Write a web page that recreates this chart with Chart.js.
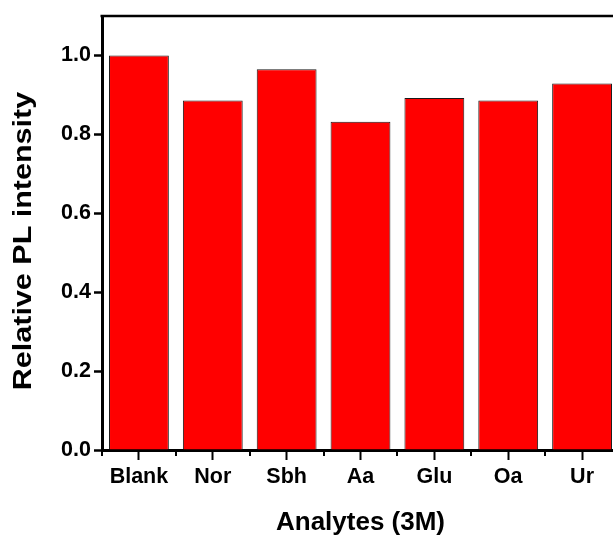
<!DOCTYPE html>
<html>
<head>
<meta charset="utf-8">
<script src="https://cdn.jsdelivr.net/npm/chart.js@4"></script>
<style>
  html, body { margin: 0; padding: 0; background: #fff; }
  #wrap { width: 613px; height: 538px; overflow: hidden; position: relative; }
  canvas { display: block; }
</style>
</head>
<body>
<div id="wrap"><canvas id="chart" width="640" height="538"></canvas></div>
<script>
  // Relative PL intensity per analyte
  const categories = ['Blank', 'Nor', 'Sbh', 'Aa', 'Glu', 'Oa', 'Ur'];
  const intensity = [1.0, 0.886, 0.965, 0.832, 0.892, 0.886, 0.929];
  const yTicks = [0.0, 0.2, 0.4, 0.6, 0.8, 1.0];
  const yTitle = 'Relative PL intensity';
  const xTitle = 'Analytes (3M)';

  const FONT = "'Liberation Sans', Arial, sans-serif";

  // top frame line, minor ticks between categories, stretched y title
  const framePlugin = {
    id: 'frame',
    afterDraw(chart) {
      const { ctx, chartArea, scales } = chart;
      const x = scales.x;
      ctx.save();
      ctx.strokeStyle = '#000';
      ctx.lineWidth = 2.5;
      ctx.beginPath();
      ctx.moveTo(chartArea.left - 1.5, chartArea.top);
      ctx.lineTo(chartArea.right, chartArea.top);
      ctx.stroke();

      ctx.lineWidth = 2;
      const step = x.getPixelForValue(1) - x.getPixelForValue(0);
      for (let i = 0; i <= categories.length; i++) {
        const px = Math.round(x.getPixelForValue(0) - step / 2 + i * step);
        ctx.beginPath();
        ctx.moveTo(px, chartArea.bottom);
        ctx.lineTo(px, chartArea.bottom + 6);
        ctx.stroke();
      }

      // the original y title is drawn wider than normal
      const cy = (chartArea.top + chartArea.bottom) / 2 + 8;
      ctx.translate(24, cy);
      ctx.rotate(-Math.PI / 2);
      ctx.scale(1.22, 1);
      ctx.fillStyle = '#000';
      ctx.font = 'bold 25px ' + FONT;
      ctx.textAlign = 'center';
      ctx.textBaseline = 'middle';
      ctx.fillText(yTitle, 0, 0);
      ctx.restore();
    }
  };

  new Chart(document.getElementById('chart'), {
    type: 'bar',
    data: {
      labels: categories,
      datasets: [{
        data: intensity,
        backgroundColor: '#ff0000',
        borderColor: '#1a1a1a',
        borderWidth: 1,
        barPercentage: 0.81,
        categoryPercentage: 1
      }]
    },
    options: {
      responsive: false,
      animation: false,
      layout: { padding: { top: 16, right: 21, left: 0, bottom: 0 } },
      plugins: { legend: { display: false }, tooltip: { enabled: false } },
      scales: {
        x: {
          afterFit(scale) { scale.height = 88; },
          grid: {
            offset: false,
            drawOnChartArea: false,
            tickLength: 10,
            tickWidth: 2,
            tickColor: '#000'
          },
          border: { color: '#000', width: 3 },
          ticks: {
            color: '#000',
            padding: 4,
            font: { family: FONT, size: 21.5, weight: 'bold' }
          },
          title: {
            display: true,
            text: xTitle,
            color: '#000',
            padding: 0,
            font: { family: FONT, size: 26, weight: 'bold' }
          }
        },
        y: {
          min: 0,
          max: 1.1,
          afterFit(scale) { scale.width = 102; },
          afterBuildTicks(scale) {
            scale.ticks = yTicks.map(v => ({ value: v }));
          },
          grid: {
            drawOnChartArea: false,
            tickLength: 8,
            tickWidth: 2.5,
            tickColor: '#000'
          },
          border: { color: '#000', width: 3 },
          ticks: {
            color: '#000',
            padding: 3,
            font: { family: FONT, size: 21.5, weight: 'bold' },
            callback: v => Number(v).toFixed(1)
          },
          title: { display: false }
        }
      }
    },
    plugins: [framePlugin]
  });
</script>
</body>
</html>
